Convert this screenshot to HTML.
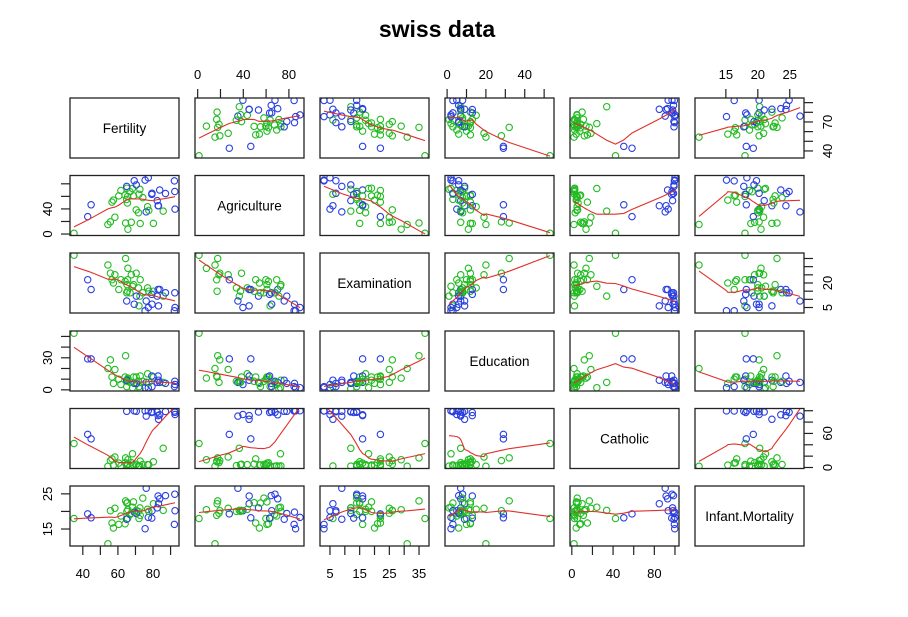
<!DOCTYPE html>
<html><head><meta charset="utf-8">
<style>
html,body{margin:0;padding:0;background:#fff;}
svg{display:block;font-family:"Liberation Sans",Arial,sans-serif;}
</style></head>
<body>
<svg id="s" width="908" height="617" xmlns="http://www.w3.org/2000/svg">
<rect width="908" height="617" fill="#fff"/>
<text x="437" y="37" font-size="23" font-weight="bold" text-anchor="middle">swiss data</text>
</svg>
<script>
var D=[[80.2,17.0,15,12,9.96,22.2],[83.1,45.1,6,9,84.84,22.2],[92.5,39.7,5,5,93.40,20.2],[85.8,36.5,12,7,33.77,20.3],[76.9,43.5,17,15,5.16,20.6],[76.1,35.3,9,7,90.57,26.6],[83.8,70.2,16,7,92.85,23.6],[92.4,67.8,14,8,97.16,24.9],[82.4,53.3,12,7,97.67,21.0],[82.9,45.2,16,13,91.38,24.4],[87.1,64.5,14,6,98.61,24.5],[64.1,62.0,21,12,8.52,16.5],[66.9,67.5,14,7,2.27,19.1],[68.9,60.7,19,12,4.43,22.7],[61.7,69.3,22,5,2.82,18.7],[68.3,72.6,18,2,24.20,21.2],[71.7,34.0,17,8,3.30,20.0],[55.7,19.4,26,28,12.11,20.2],[54.3,15.2,31,20,2.15,10.8],[65.1,73.0,19,9,2.84,20.0],[65.5,59.8,22,10,5.23,18.0],[65.0,55.1,14,3,4.52,22.4],[56.6,50.9,22,12,15.14,16.7],[57.4,54.1,20,6,4.20,15.3],[72.5,71.2,12,1,2.40,21.0],[74.2,58.1,14,8,5.23,23.8],[72.0,63.5,6,3,2.56,18.0],[60.5,60.8,16,10,7.72,16.3],[58.3,26.8,25,19,18.46,20.9],[65.4,49.5,15,8,6.10,22.5],[75.5,85.9,3,2,99.71,15.1],[69.3,84.9,7,6,99.68,19.8],[77.3,89.7,5,2,100.00,18.3],[70.5,78.2,12,6,98.96,19.4],[79.4,64.9,7,3,98.22,20.2],[65.0,75.9,9,9,99.06,17.8],[92.2,84.6,3,3,99.46,16.3],[79.3,63.1,13,13,96.83,18.1],[70.4,38.4,26,12,5.62,20.3],[65.7,7.7,29,11,13.79,20.5],[72.7,16.7,22,13,11.22,18.9],[64.4,17.6,35,32,16.92,23.0],[77.6,37.6,15,7,4.97,20.0],[67.6,18.7,25,7,8.65,19.5],[35.0,1.2,37,53,42.34,18.0],[44.7,46.6,16,29,50.43,18.2],[42.8,27.7,22,29,58.33,19.3]];
var names=["Fertility","Agriculture","Examination","Education","Catholic","Infant.Mortality"];
var ticks=[[40,50,60,70,80,90],[0,20,40,60,80],[5,10,15,20,25,30,35],[0,10,20,30,40,50],[0,20,40,60,80,100],[15,20,25]];
var labBT=[[40,60,80],[0,40,80],[5,15,25,35],[0,20,40],[0,40,80],[15,20,25]];
var labLR=[[40,70],[0,40],[5,20],[0,30],[0,60],[15,25]];
var PX=[70,195,320,445,570,695],PY=[98,175.5,253,331,408.5,486],W=109,H=60;
var rng=[];
for(var k=0;k<6;k++){var mn=1e9,mx=-1e9;D.forEach(function(r){mn=Math.min(mn,r[k]);mx=Math.max(mx,r[k]);});var p=(mx-mn)*0.04;rng.push([mn-p,mx+p]);}
function sx(k,c,v){return PX[c]+(v-rng[k][0])/(rng[k][1]-rng[k][0])*W;}
function sy(k,r,v){return PY[r]+H-(v-rng[k][0])/(rng[k][1]-rng[k][0])*H;}
function lowess(x,y){
 var n=x.length,idx=x.map(function(_,i){return i;}).sort(function(a,b){return x[a]-x[b];});
 x=idx.map(function(i){return x[i];});y=idx.map(function(i){return y[i];});
 var ns=Math.max(2,Math.min(n,Math.floor(2/3*n+1e-7))),rw=x.map(function(){return 1;}),ys=[];
 var range=x[n-1]-x[0];
 for(var it=0;it<=3;it++){
  ys=[];
  for(var i=0;i<n;i++){
   var d=x.map(function(v){return Math.abs(v-x[i]);}).slice().sort(function(a,b){return a-b;});
   var h=d[ns-1];var w=[],sw=0;
   for(var j=0;j<n;j++){var r=Math.abs(x[j]-x[i]);var ww=0;
    if(r<=h*0.999){ww=(r<=h*0.001)?1:Math.pow(1-Math.pow(r/h,3),3);}
    ww*=rw[j];w.push(ww);sw+=ww;}
   if(sw<=0){ys.push(y[i]);continue;}
   for(j=0;j<n;j++)w[j]/=sw;
   if(h>0){var a=0;for(j=0;j<n;j++)a+=w[j]*x[j];var b=0;for(j=0;j<n;j++)b+=w[j]*(x[j]-a)*(x[j]-a);
    if(Math.sqrt(b)>0.001*range){var bb=(x[i]-a)/b;for(j=0;j<n;j++)w[j]*=(bb*(x[j]-a)+1);}}
   var s=0;for(j=0;j<n;j++)s+=w[j]*y[j];ys.push(s);
  }
  if(it==3)break;
  var res=y.map(function(v,i){return v-ys[i];});
  var ar=res.map(Math.abs).sort(function(a,b){return a-b;});
  var m=n%2?ar[(n-1)/2]:(ar[n/2-1]+ar[n/2])/2;var cm=6*m;
  rw=res.map(function(r){var u=Math.abs(r)/cm;return u<1?Math.pow(1-u*u,2):0;});
 }
 return [x,ys];
}
var o='';
for(var r=0;r<6;r++)for(var c=0;c<6;c++){
 var x0=PX[c],y0=PY[r];
 if(r==c){o+='<text x="'+(x0+W/2)+'" y="'+(y0+H/2+5)+'" font-size="13.5" text-anchor="middle">'+names[r]+'</text>';}
 else{
  o+='<svg x="'+x0+'" y="'+y0+'" width="'+W+'" height="'+H+'" overflow="hidden"><g transform="translate('+(-x0)+','+(-y0)+')">';
  D.forEach(function(d){var col=d[4]>50?'#2a3fe0':'#22bb22';
   o+='<circle cx="'+sx(c,c,d[c]).toFixed(1)+'" cy="'+sy(r,r,d[r]).toFixed(1)+'" r="3.2" fill="none" stroke="'+col+'" stroke-width="1.1"/>';});
  var L=lowess(D.map(function(d){return d[c];}),D.map(function(d){return d[r];}));
  var pts=L[0].map(function(v,i){return sx(c,c,v).toFixed(1)+','+sy(r,r,L[1][i]).toFixed(1);}).join(' ');
  o+='<polyline points="'+pts+'" fill="none" stroke="#e0302a" stroke-width="1.1"/>';
  o+='</g></svg>';
 }
 o+='<rect x="'+x0+'" y="'+y0+'" width="'+W+'" height="'+H+'" fill="none" stroke="#222" stroke-width="1.3"/>';
 if(r==0&&c%2==1){ticks[c].forEach(function(t){var X=sx(c,c,t);o+='<line x1="'+X+'" x2="'+X+'" y1="'+y0+'" y2="'+(y0-9)+'" stroke="#222" stroke-width="1.2"/>';});
  labBT[c].forEach(function(t){o+='<text x="'+sx(c,c,t)+'" y="79" font-size="13" text-anchor="middle">'+t+'</text>';});}
 if(r==5&&c%2==0){var yb=y0+H;ticks[c].forEach(function(t){var X=sx(c,c,t);o+='<line x1="'+X+'" x2="'+X+'" y1="'+yb+'" y2="'+(yb+9)+'" stroke="#222" stroke-width="1.2"/>';});
  labBT[c].forEach(function(t){o+='<text x="'+sx(c,c,t)+'" y="578" font-size="13" text-anchor="middle">'+t+'</text>';});}
 if(c==0&&r%2==1){ticks[r].forEach(function(t){var Y=sy(r,r,t);o+='<line x1="'+x0+'" x2="'+(x0-9)+'" y1="'+Y+'" y2="'+Y+'" stroke="#222" stroke-width="1.2"/>';});
  labLR[r].forEach(function(t){var Y=sy(r,r,t);o+='<text transform="translate(52,'+Y+') rotate(-90)" font-size="13" text-anchor="middle">'+t+'</text>';});}
 if(c==5&&r%2==0){var xr=x0+W;ticks[r].forEach(function(t){var Y=sy(r,r,t);o+='<line x1="'+xr+'" x2="'+(xr+9)+'" y1="'+Y+'" y2="'+Y+'" stroke="#222" stroke-width="1.2"/>';});
  labLR[r].forEach(function(t){var Y=sy(r,r,t);o+='<text transform="translate(832,'+Y+') rotate(-90)" font-size="13" text-anchor="middle">'+t+'</text>';});}
}
document.getElementById('s').insertAdjacentHTML('beforeend',o);
</script>
</body></html>
